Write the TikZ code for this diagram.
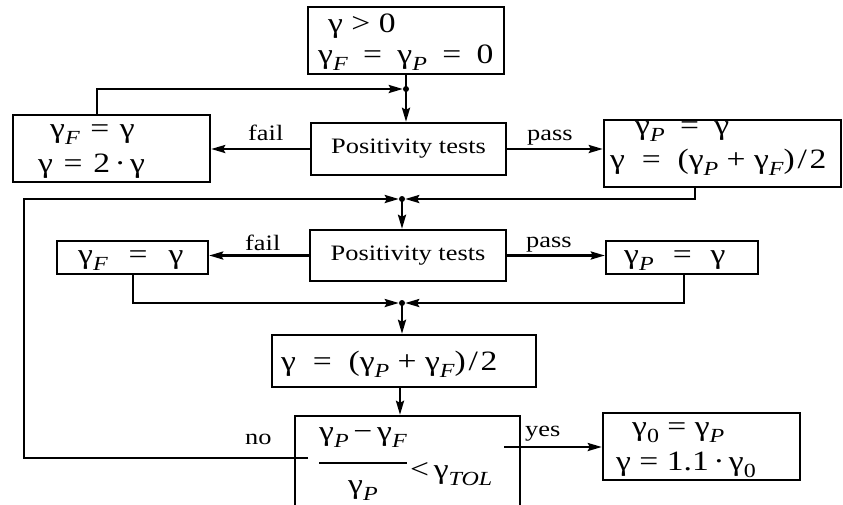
\documentclass[tikz,border=0pt]{standalone}
\usepackage{fontspec}
\setmainfont{Liberation Serif}
\newfontfamily\labfont[FakeStretch=1.2]{Liberation Serif}
\newfontfamily\mthfont[FakeStretch=1.2]{Liberation Serif}
\usetikzlibrary{arrows.meta}
\newcommand\mthsize{\mthfont\fontsize{28}{30}\selectfont}
\newcommand\sbx[1]{\raisebox{-0.28em}{\fontsize{20}{20}\selectfont\itshape #1}}
\newcommand\sbz[1]{\raisebox{-0.28em}{\fontsize{20}{20}\selectfont #1}}
\newcommand\eqq[1]{\hspace{#1em}=\hspace{#1em}}
\newcommand\opq[2]{\hspace{#1em}#2\hspace{#1em}}
\begin{document}
\begin{tikzpicture}[x=1pt,y=-1pt,
  box/.style={draw, line width=2.4pt, inner sep=0pt},
  ln/.style={line width=2.4pt},
  arr/.style={ln, -{Stealth[length=14pt,width=8pt,inset=2pt]}},
  dot/.style={circle, fill, inner sep=0pt, minimum size=6pt},
  mt/.style={anchor=base west, inner sep=0pt, font=\mthsize},
  lb/.style={anchor=base west, inner sep=0pt, font=\labfont\fontsize{22}{24}\selectfont}]
\useasboundingbox (0,0) rectangle (843,504);
% boxes
\node[box, minimum width=196pt, minimum height=67pt] (top) at (406,40.5) {};
\node[box, minimum width=197pt, minimum height=67pt] (L1) at (111.5,148.5) {};
\node[box, minimum width=195pt, minimum height=52pt, font=\labfont\fontsize{22}{24}\selectfont] (P1) at (408.5,149) {Positivity tests};
\node[box, minimum width=237pt, minimum height=67pt] (R1) at (722.5,153.5) {};
\node[box, minimum width=196pt, minimum height=51pt, font=\labfont\fontsize{22}{24}\selectfont] (P2) at (408,255.5) {Positivity tests};
\node[box, minimum width=151pt, minimum height=33pt] (L2) at (132.5,257.5) {};
\node[box, minimum width=152pt, minimum height=33pt] (R2) at (682,257.5) {};
\node[box, minimum width=264pt, minimum height=52pt] (G) at (404,361) {};
\node[box, minimum width=225pt, minimum height=114pt] (D) at (407.5,473) {};
\node[box, minimum width=197pt, minimum height=67pt] (Res) at (701.5,446.5) {};
% junctions
\node[dot] (j1) at (406,89) {};
\node[dot] (j2) at (402,199) {};
\node[dot] (j3) at (402,303) {};
% helper coordinates
\coordinate (x97) at (97,0);
\coordinate (x695) at (695,0);
\coordinate (x24) at (24,0);
\coordinate (x133) at (133,0);
\coordinate (x684) at (684,0);
\coordinate (x400) at (400,0);
\coordinate (noEnd) at (308,458);
\coordinate (yesStart) at (504,447);
% texts
\node[mt] (t1) at (328,32) {γ > 0};
\node[mt] (t2) at (318,63) {γ\sbx{F}\eqq{0.55}γ\sbx{P}\eqq{0.55}0};
\node[mt] (l1a) at (50,137) {γ\sbx{F}\eqq{0.38}γ};
\node[mt] (l1b) at (38,172) {γ\eqq{0.38}2\opq{0.16}{·}γ};
\node[mt] (r1a) at (635,134) {γ\sbx{P}\eqq{0.55}γ};
\node[mt] (r1b) at (610,168) {γ\eqq{0.6}(γ\sbx{P}\opq{0.3}{+}γ\sbx{F})\opq{0.1}{/}2};
\node[mt] (l2) at (78,263) {γ\sbx{F}\eqq{0.75}γ};
\node[mt] (r2) at (624,263) {γ\sbx{P}\eqq{0.68}γ};
\node[mt] (g) at (281,370) {γ\eqq{0.6}(γ\sbx{P}\opq{0.3}{+}γ\sbx{F})\opq{0.1}{/}2};
\node[mt] (dnum) at (319,440) {γ\sbx{P}\opq{0.17}{−}γ\sbx{F}};
\node[mt] (dlt) at (410,478) {<\,γ\sbx{TOL}};
\node[mt] (dden) at (348,493) {γ\sbx{P}};
\draw[line width=1.5pt] (319,463) -- (407,463);
\node[mt] (res1) at (632,435) {γ\sbz{0}\eqq{0.3}γ\sbx{P}};
\node[mt] (res2) at (616,470) {γ\eqq{0.3}1.1\opq{0.16}{·}γ\sbz{0}};
% labels
\node[lb] (fail1) at (248,140) {fail};
\node[lb] (pass1) at (527,140) {pass};
\node[lb] (fail2) at (245,250) {fail};
\node[lb] (pass2) at (526,247) {pass};
\node[lb] (no) at (245,444) {no};
\node[lb] (yes) at (525,436) {yes};
% connectors
\draw[ln] (top.south -| j1) -- (j1.center);
\draw[arr] (j1.center) -- (j1 |- P1.north);
\draw[arr] (L1.north -| x97) |- (j1);
\draw[arr] (P1.west) -- (L1.east |- P1.west);
\draw[arr] (P1.east) -- (R1.west |- P1.east);
\draw[arr] (R1.south -| x695) |- (j2);
\draw[arr] (noEnd) -| (x24 |- j2) -- (j2);
\draw[arr] (j2.center) -- (j2 |- P2.north);
\draw[arr] (P2.west) -- (L2.east |- P2.west);
\draw[arr] (P2.east) -- (R2.west |- P2.east);
\draw[arr] (L2.south -| x133) |- (j3);
\draw[arr] (R2.south -| x684) |- (j3);
\draw[arr] (j3.center) -- (j3 |- G.north);
\draw[arr] (G.south -| x400) -- (x400 |- D.north);
\draw[arr] (yesStart) -- (Res.west |- yesStart);
\end{tikzpicture}
\end{document}
